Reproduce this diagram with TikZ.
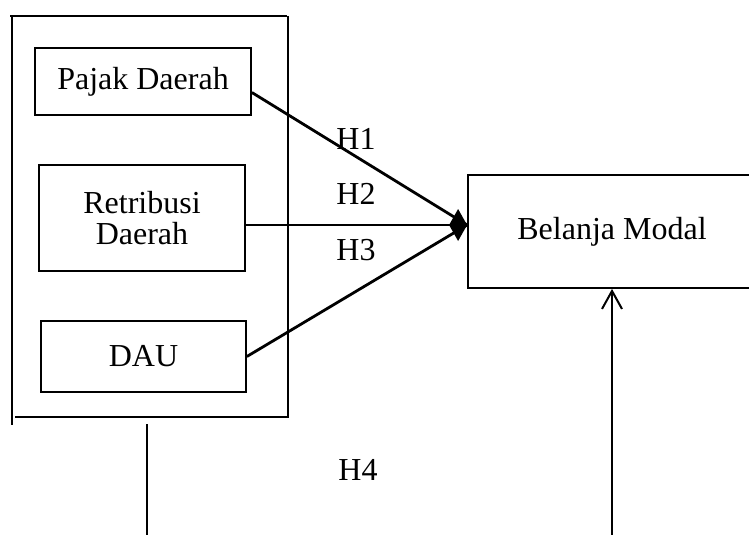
\documentclass[tikz,border=0pt]{standalone}
\usepackage{fontspec}
\setmainfont{Liberation Serif}
\usetikzlibrary{positioning,arrows.meta}

\begin{document}
\begin{tikzpicture}[x=0.5pt,y=-0.5pt,box/.style={draw,rectangle,line width=0.9pt,align=center,inner sep=0pt,font=\fontsize{16}{15.5}\selectfont},lbl/.style={font=\fontsize{16}{19}\selectfont},arrow/.style={line width=1.4pt},frame/.style={line width=1pt}]
\clip (0,0) rectangle (749,535);
% outer frame
\draw[frame] (10,16) -- (287,16);
\draw[frame] (288,16) -- (288,417) -- (15,417);
\draw[frame] (12,17) -- (12,425);
\node[box,minimum width=108pt,minimum height=33.5pt] (pajak) at (143,81.5) {Pajak Daerah};
\node[box,minimum width=103pt,minimum height=53pt] (retribusi) at (142,218) {Retribusi\\Daerah};
\node[box,minimum width=102.5pt,minimum height=35.5pt] (dau) at (143.5,356.5) {DAU};
\node[box,minimum width=144pt,minimum height=56.5pt] (bm) at (612,231.5) {Belanja Modal};
\node[lbl] (h1) at (356,139) {H1};
\node[lbl] (h2) at (356,194) {H2};
\node[lbl] (h3) at (356,250) {H3};
\node[lbl] (h4) at (358,470) {H4};
\coordinate (hub) at ([yshift=3.25pt]bm.west);
\draw[arrow] ([yshift=-5.5pt]pajak.east) -- (hub);
\draw[arrow] (dau.east) -- (hub);
\draw[arrow,-{Diamond[length=9pt,width=16pt]}] ([yshift=-3.5pt]retribusi.east) -- (hub);
% lines at the bottom
\coordinate (s1) at (147,424);
\coordinate (s2) at (147,540);
\coordinate (s3) at (612,540);
\draw[frame] (s1) -- (s2);
\draw[frame,-{Straight Barb[length=9pt,width=10pt]}] (s3) -- (bm.south);
\end{tikzpicture}
\end{document}
